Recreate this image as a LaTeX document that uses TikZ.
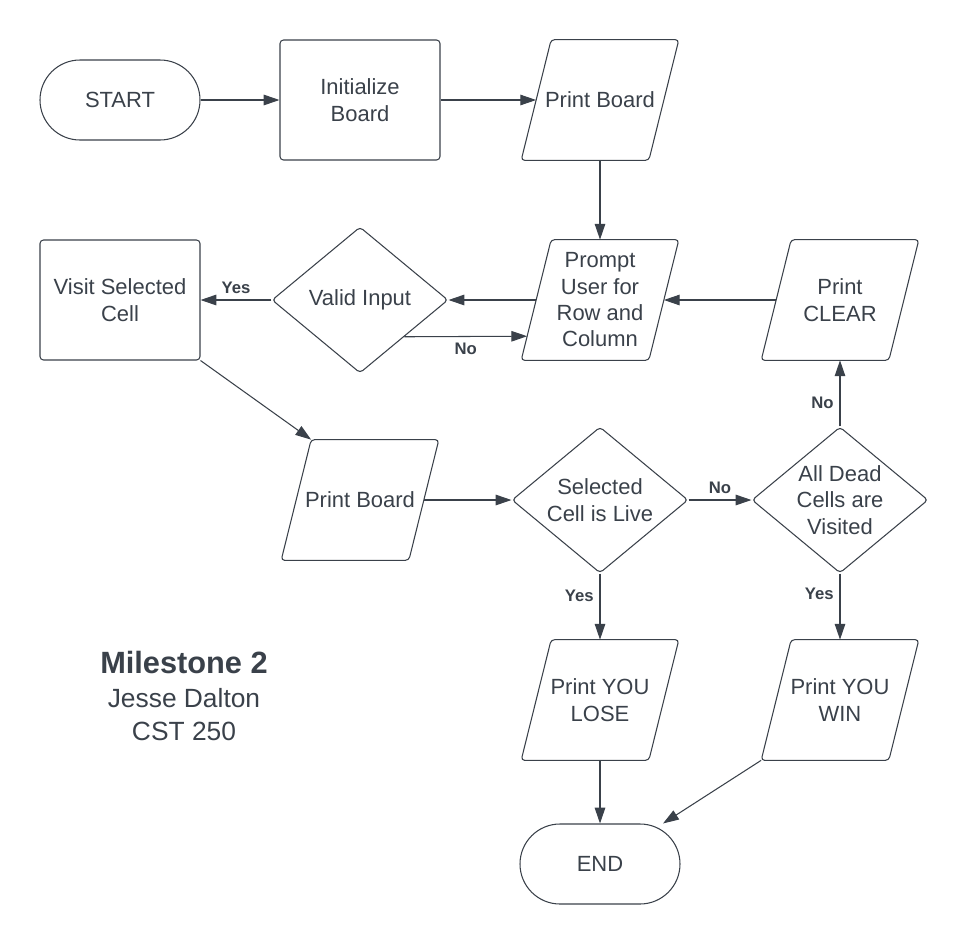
\documentclass[tikz,border=0pt]{standalone}
\usepackage{fontspec}
\setmainfont{Liberation Sans}
\usetikzlibrary{shapes.geometric,arrows.meta,positioning,calc}
\definecolor{ink}{RGB}{58,65,74}

\begin{document}
\begin{tikzpicture}[
    node distance=4cm and 4.8cm, on grid,
    every node/.style={text=ink, font=\fontsize{12.5}{15}\selectfont},
    terminal/.style={rectangle, draw=ink, line width=0.6pt, rounded corners=0.8cm, minimum width=3.2cm, minimum height=1.6cm, align=center},
    process/.style={rectangle, draw=ink, line width=0.6pt, rounded corners=2pt, minimum width=3.2cm, minimum height=2.4cm, align=center},
    io/.style={rectangle, minimum width=2.54cm, minimum height=2.4cm, inner sep=0pt, align=center},
    outline/.style={draw=ink, line width=0.6pt, rounded corners=2pt},
    decision/.style={diamond, aspect=1.2, draw=ink, line width=0.6pt, rounded corners=2pt, minimum width=3.52cm, minimum height=2.92cm, inner sep=0pt, align=center},
    answer/.style={font=\fontsize{9.5}{11}\selectfont\bfseries},
    arrow/.style={draw=ink, line width=0.6pt, -{Triangle[length=9pt,width=6pt]}}
]
\useasboundingbox (0,0) rectangle (19.42,-18.9);

% top row
\node[terminal] (start) at (2.4,-2) {START};
\node[process, right=of start] (init) {Initialize\\Board};
\node[io, right=of init] (board1) {Print Board};

% input loop
\node[io, below=of board1] (prompt) {Prompt\\User for\\Row and\\Column};
\node[io, right=of prompt] (clear) {Print\\CLEAR};
\node[decision, left=of prompt] (valid) {Valid Input};
\node[process, left=of valid] (visit) {Visit Selected\\Cell};

% checks
\node[io, below=of valid] (board2) {Print Board};
\node[decision, below=of prompt] (live) {Selected\\Cell is Live};
\node[decision, below=of clear] (dead) {All Dead\\Cells are\\Visited};

% results
\node[io, below=of live] (lose) {Print YOU\\LOSE};
\node[io, below=of dead] (win) {Print YOU\\WIN};
\node[terminal, below=3.28cm of lose] (stop) {END};

% caption
\node[left=8.32cm of lose, yshift=0.08cm, align=center, font=\fontsize{15}{19.3}\selectfont] (caption)
    {{\fontsize{17.5}{19.3}\selectfont\bfseries Milestone 2}\\Jesse Dalton\\CST 250};

% slanted outlines of the print / input nodes
\foreach \n in {board1,prompt,clear,board2,lose,win}{
    \coordinate (\n-bl) at ($(\n.south west)+(-0.3,0)$);
    \coordinate (\n-tl) at ($(\n.north west)+(0.3,0)$);
    \coordinate (\n-tr) at ($(\n.north east)+(0.3,0)$);
    \coordinate (\n-br) at ($(\n.south east)+(-0.3,0)$);
    \draw[outline] (\n-bl) -- (\n-tl) -- (\n-tr) -- (\n-br) -- cycle;
}

% connections
\draw[arrow] (start) -- (init);
\draw[arrow] (init) -- (board1);
\draw[arrow] (board1) -- (prompt);
\draw[arrow] (prompt) -- (valid);
\draw[arrow] (valid) -- node[answer, above] {Yes} (visit);
\draw[arrow] (valid.south east) -- node[answer, below] {No} ($(prompt-bl)!0.2!(prompt-tl)$);
\draw[arrow] (visit.south east) -- (board2-tl);
\draw[arrow] (board2) -- (live);
\draw[arrow] (live) -- node[answer, above] {No} (dead);
\draw[arrow] (dead) -- node[answer, left, pos=0.35] {No} (clear);
\draw[arrow] (clear) -- (prompt);
\draw[arrow] (live) -- node[answer, left, pos=0.33] {Yes} (lose);
\draw[arrow] (dead) -- node[answer, left, pos=0.3] {Yes} (win);
\draw[arrow] (lose) -- (stop);
\draw[arrow] (win-bl) -- (stop);

\end{tikzpicture}
\end{document}
